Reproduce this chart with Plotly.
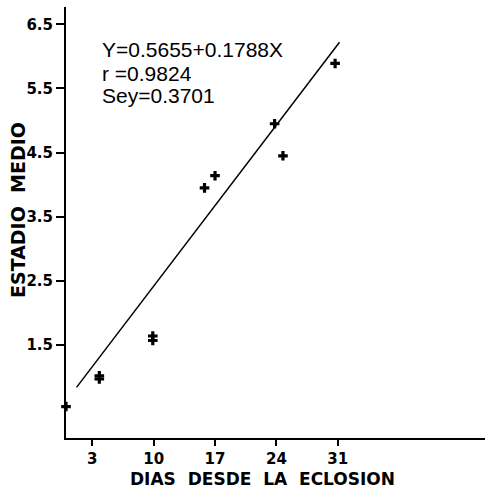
import plotly.graph_objects as go

# Data
dias = [0, 3.8, 3.8, 9.9, 9.9, 15.8, 17.0, 23.8, 24.75, 30.7]
estadio = [0.54, 0.97, 1.02, 1.57, 1.64, 3.95, 4.14, 4.95, 4.45, 5.89]

# Regression line endpoints (Y=0.5655+0.1788X as drawn)
linea_x = [1.2, 31.2]
linea_y = [0.84, 6.22]

x_ticks = [3, 10, 17, 24, 31]
y_ticks = [1.5, 2.5, 3.5, 4.5, 5.5, 6.5]
y_tick_text = ["1.5", "2.5", "3.5", "4.5", "5.5", "6.5"]

eq_lines = ["Y=0.5655+0.1788X", "r =0.9824", "Sey=0.3701"]

W, H = 487, 490
L, R, T, B = 66, 2, 7, 52
PW, PH = W - L - R, H - T - B


def px(xp):
    return (xp - L) / PW


def py(yp):
    return (H - B - yp) / PH


fig = go.Figure()
fig.add_trace(go.Scatter(x=linea_x, y=linea_y, mode="lines",
                         line=dict(color="black", width=1.5),
                         showlegend=False, hoverinfo="skip"))
fig.add_trace(go.Scatter(x=dias, y=estadio, mode="markers",
                         marker=dict(symbol="cross", size=8, color="black"),
                         cliponaxis=False, showlegend=False))

bold = dict(family="DejaVu Sans", size=15, color="black", weight="bold")

fig.update_xaxes(range=[0, 47.8], tickvals=x_ticks, ticktext=[str(v) for v in x_ticks],
                 showline=True, linecolor="black", linewidth=2,
                 ticks="outside", ticklen=6, tickwidth=2, tickcolor="black",
                 showgrid=False, zeroline=False, tickfont=bold)
fig.update_yaxes(range=[0.05, 6.77], tickvals=y_ticks, ticktext=y_tick_text,
                 showline=True, linecolor="black", linewidth=2,
                 ticks="outside", ticklen=8, tickwidth=2, tickcolor="black",
                 showgrid=False, zeroline=False, tickfont=bold)

annotations = []
for t, yp in zip(eq_lines, [50, 73, 95]):
    annotations.append(dict(text=t, xref="paper", yref="paper", x=px(100), y=py(yp),
                            xanchor="left", yanchor="middle", showarrow=False,
                            font=dict(family="Liberation Sans", size=21, color="black")))

annotations.append(dict(text="DIAS  DESDE  LA  ECLOSION", xref="paper", yref="paper",
                        x=px(262.5), y=py(479), xanchor="center", yanchor="middle",
                        showarrow=False,
                        font=dict(family="DejaVu Sans", size=17, color="black", weight="bold")))
annotations.append(dict(text="ESTADIO  MEDIO", xref="paper", yref="paper",
                        x=px(18.5), y=py(210.5), xanchor="center", yanchor="middle",
                        textangle=-90, showarrow=False,
                        font=dict(family="DejaVu Sans", size=19, color="black", weight="bold")))

fig.update_layout(width=W, height=H, margin=dict(l=L, r=R, t=T, b=B),
                  paper_bgcolor="white", plot_bgcolor="white",
                  annotations=annotations)

fig.write_html("out.html", config={"displayModeBar": False},
               post_script="document.body.style.margin='0';document.body.style.padding='0';")
